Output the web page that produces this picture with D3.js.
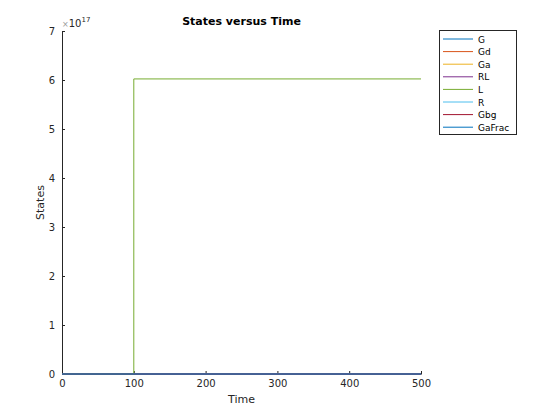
<!DOCTYPE html>
<html><head><meta charset="utf-8">
<script src="https://cdn.jsdelivr.net/npm/d3@7"></script>
<style>body{margin:0;background:#fff;} svg{display:block;}</style>
</head><body>
<svg id="c" width="560" height="420"></svg>
<script>
const time = [0, 100, 100, 500];
const seriesNames = ["G","Gd","Ga","RL","L","R","Gbg","GaFrac"];
const seriesColors = ["#0072BD","#D95319","#EDB120","#7E2F8E","#77AC30","#4DBEEE","#A2142F","#0072BD"];
const G = [0,0,0,0];
const Gd = [0,0,0,0];
const Ga = [0,0,0,0];
const RL = [0,0,0,0];
const L = [0,0,6.022e17,6.022e17];
const R = [0,0,0,0];
const Gbg = [0,0,0,0];
const GaFrac = [0,0,0,0];
const seriesValues = [G,Gd,Ga,RL,L,R,Gbg,GaFrac];
const xTicks = [0,100,200,300,400,500];
const yTicks = [0,1,2,3,4,5,6,7];
const yExp = 17;

const svg = d3.select("#c");
const font = "DejaVu Sans, sans-serif";
const m = {l:62, r:421, t:31, b:374};
const x = d3.scaleLinear().domain([0,500]).range([m.l, m.r]);
const y = d3.scaleLinear().domain([0,7e17]).range([m.b, m.t]);

const xAxis = svg.append("g").attr("transform",`translate(0,${m.b})`)
  .call(d3.axisBottom(x).tickValues(xTicks).tickSizeInner(-3).tickSizeOuter(0).tickPadding(6));
const yAxis = svg.append("g").attr("transform",`translate(${m.l},0)`)
  .call(d3.axisLeft(y).tickValues(yTicks.map(v=>v*Math.pow(10,yExp))).tickFormat(d=>Math.round(d/Math.pow(10,yExp))).tickSizeInner(-3).tickSizeOuter(0).tickPadding(7));
[xAxis,yAxis].forEach(a=>{
  a.selectAll("path").attr("stroke","#262626");
  a.selectAll("line").attr("stroke","#262626");
  a.selectAll("text").attr("fill","#262626").attr("font-family",font).attr("font-size",10);
});

const line = d3.line().x(d => x(d[0])).y(d => y(d[1]));
seriesValues.forEach((vals,i) => {
  svg.append("path").datum(time.map((t,j)=>[t,vals[j]]))
    .attr("d", line).attr("fill","none").attr("stroke",seriesColors[i]).attr("stroke-width",1);
});

svg.append("text").attr("x",m.l).attr("y",27).attr("font-family",font).attr("font-size",10).attr("fill","#262626")
  .html(`<tspan font-size="8" fill="#999">×</tspan>10<tspan dy="-5" font-size="7">${yExp}</tspan>`);

svg.append("text").attr("x",(m.l+m.r)/2).attr("y",25).attr("text-anchor","middle")
  .attr("font-family",font).attr("font-size",11).attr("font-weight","bold").text("States versus Time");
svg.append("text").attr("x",(m.l+m.r)/2).attr("y",403).attr("text-anchor","middle")
  .attr("font-family",font).attr("font-size",11).attr("fill","#262626").text("Time");
svg.append("text").attr("transform",`translate(44,${(m.t+m.b)/2}) rotate(-90)`).attr("text-anchor","middle")
  .attr("font-family",font).attr("font-size",11).attr("fill","#262626").text("States");

const lg = svg.append("g");
lg.append("rect").attr("x",439.5).attr("y",30.5).attr("width",77).attr("height",104)
  .attr("fill","#fff").attr("stroke","#262626").attr("stroke-width",1);
seriesNames.forEach((n,i)=>{
  const yy = 39 + i*12.6;
  lg.append("line").attr("x1",443).attr("x2",473).attr("y1",yy).attr("y2",yy).attr("stroke",seriesColors[i]);
  lg.append("text").attr("x",478).attr("y",yy+3.5).attr("font-family",font).attr("font-size",9).attr("fill","#000").text(n);
});
</script>
</body></html>
